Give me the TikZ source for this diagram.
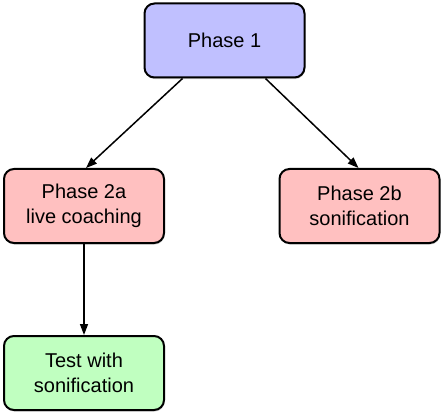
\documentclass[tikz,border=0pt]{standalone}
\usepackage{fontspec}
\setmainfont{Liberation Sans}
\usetikzlibrary{arrows.meta,shadows}

\definecolor{lavender}{HTML}{C0C0FF}
\definecolor{pinkbox}{HTML}{FFC0C0}
\definecolor{greenbox}{HTML}{C0FFC0}

\begin{document}
\begin{tikzpicture}[x=1pt, y=1pt,
        phasebox/.style={draw, line width=2pt, rounded corners=10pt, minimum width=160pt, minimum height=74pt,
            align=center, font=\fontsize{20}{24.5}\selectfont,
            drop shadow={shadow xshift=0.6pt, shadow yshift=-1.6pt, opacity=0.35}},
        link/.style={line width=1.5pt, -{Triangle[length=11pt, width=8pt]}}]
        \useasboundingbox (0,0) rectangle (444,418);
        \node [phasebox, fill=lavender] (phaseone) at (224.5,377.5) {Phase 1};
        \node [phasebox, fill=pinkbox] (phasetwoa) at (84,212) {Phase 2a\\live coaching};
        \node [phasebox, fill=pinkbox] (phasetwob) at (359.5,212) {Phase 2b\\sonification};
        \node [phasebox, fill=greenbox] (test) at (84,45) {Test with\\sonification};
        \draw [link] ([xshift=-42pt]phaseone.south) -- ([xshift=2pt]phasetwoa.north);
        \draw [link] ([xshift=41pt]phaseone.south) -- ([xshift=-1pt]phasetwob.north);
        \draw [link] (phasetwoa.south) -- (test.north);
    \end{tikzpicture}
\end{document}
